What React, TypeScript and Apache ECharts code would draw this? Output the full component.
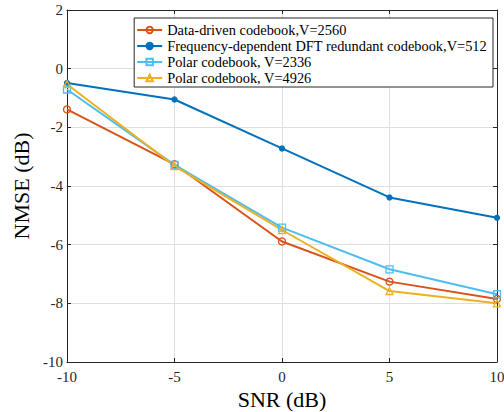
import React, { useEffect, useRef } from "react";
import * as echarts from "echarts";

const snr = [-10, -5, 0, 5, 10];
const dataDriven = [-1.39, -3.26, -5.89, -7.26, -7.85];
const freqDft = [-0.49, -1.05, -2.72, -4.39, -5.08];
const polar2336 = [-0.71, -3.28, -5.42, -6.84, -7.69];
const polar4926 = [-0.53, -3.32, -5.5, -7.58, -8.0];
const seriesNames = [
  "Data-driven codebook,V=2560",
  "Frequency-dependent DFT redundant codebook,V=512",
  "Polar codebook, V=2336",
  "Polar codebook, V=4926",
];
const colors = ["#D95319", "#0072BD", "#4DBEEE", "#EDB120"];
const symbols = ["circle", "circle", "rect", "triangle"];
const xTicks = [-10, -5, 0, 5, 10];
const yTicks = [-10, -8, -6, -4, -2, 0, 2];

const FONT = "'Liberation Serif', 'Times New Roman', serif";

export default function App() {
  const ref = useRef<HTMLDivElement>(null);
  useEffect(() => {
    document.body.style.margin = "0";
    if (!ref.current) return;
    const chart = echarts.init(ref.current, null, { renderer: "svg" });
    const all = [dataDriven, freqDft, polar2336, polar4926];
    const series = all.map((vals, i) => ({
      name: seriesNames[i],
      type: "line",
      data: vals.map((v, j) => [snr[j], v]),
      symbol: symbols[i],
      symbolSize: i === 1 ? 5 : 7,
      showAllSymbol: true,
      itemStyle: {
        color: i === 1 ? colors[i] : "rgba(255,255,255,0)",
        borderColor: colors[i],
        borderWidth: 1.3,
      },
      lineStyle: { color: colors[i], width: 2 },
      xAxisIndex: 0,
      yAxisIndex: 0,
    }));
    const axisLineStyle = { color: "#262626", width: 1 };
    chart.setOption({
      animation: false,
      backgroundColor: "#fff",
      textStyle: { fontFamily: FONT },
      grid: {
        left: 67,
        right: 7,
        top: 10,
        bottom: 50,
        show: false,
        containLabel: false,
        outerBoundsMode: "none",
      },
      legend: {
        orient: "vertical",
        right: 11,
        top: 18,
        data: seriesNames,
        itemWidth: 25,
        itemHeight: 8,
        itemGap: 0,
        padding: [4, 6, 1, 2],
        backgroundColor: "#fff",
        borderColor: "#262626",
        borderWidth: 1,
        borderRadius: 0,
        textStyle: {
          fontFamily: FONT,
          fontSize: 14.4,
          lineHeight: 16,
          color: "#000",
        },
      },
      xAxis: [
        {
          type: "value",
          min: -10,
          max: 10,
          interval: 5,
          name: "SNR (dB)",
          nameLocation: "middle",
          nameGap: 22,
          nameTextStyle: { fontFamily: FONT, fontSize: 22, color: "#000" },
          axisLine: { show: true, onZero: false, lineStyle: axisLineStyle },
          axisTick: { show: true, inside: true, length: 4, lineStyle: axisLineStyle },
          axisLabel: {
            fontFamily: FONT,
            fontSize: 15,
            color: "#262626",
            margin: 7,
            formatter: (v: number) => (xTicks.includes(v) ? String(v) : ""),
          },
          splitLine: { show: true, lineStyle: { color: "#dfdfdf" } },
        },
        {
          type: "value",
          position: "top",
          min: -10,
          max: 10,
          interval: 5,
          axisLine: { show: true, onZero: false, lineStyle: axisLineStyle },
          axisTick: { show: true, inside: true, length: 4, lineStyle: axisLineStyle },
          axisLabel: { show: false },
          splitLine: { show: false },
        },
      ],
      yAxis: [
        {
          type: "value",
          min: -10,
          max: 2,
          interval: 2,
          name: "NMSE (dB)",
          nameLocation: "middle",
          nameGap: 33,
          nameTextStyle: { fontFamily: FONT, fontSize: 22, color: "#000" },
          axisLine: { show: true, onZero: false, lineStyle: axisLineStyle },
          axisTick: { show: true, inside: true, length: 4, lineStyle: axisLineStyle },
          axisLabel: {
            fontFamily: FONT,
            fontSize: 15,
            color: "#262626",
            margin: 4,
            formatter: (v: number) => (yTicks.includes(v) ? String(v) : ""),
          },
          splitLine: { show: true, lineStyle: { color: "#dfdfdf" } },
        },
        {
          type: "value",
          position: "right",
          min: -10,
          max: 2,
          interval: 2,
          axisLine: { show: true, onZero: false, lineStyle: axisLineStyle },
          axisTick: { show: true, inside: true, length: 4, lineStyle: axisLineStyle },
          axisLabel: { show: false },
          splitLine: { show: false },
        },
      ],
      series,
    });
    return () => chart.dispose();
  }, []);
  return <div ref={ref} style={{ width: 504, height: 412 }} />;
}
